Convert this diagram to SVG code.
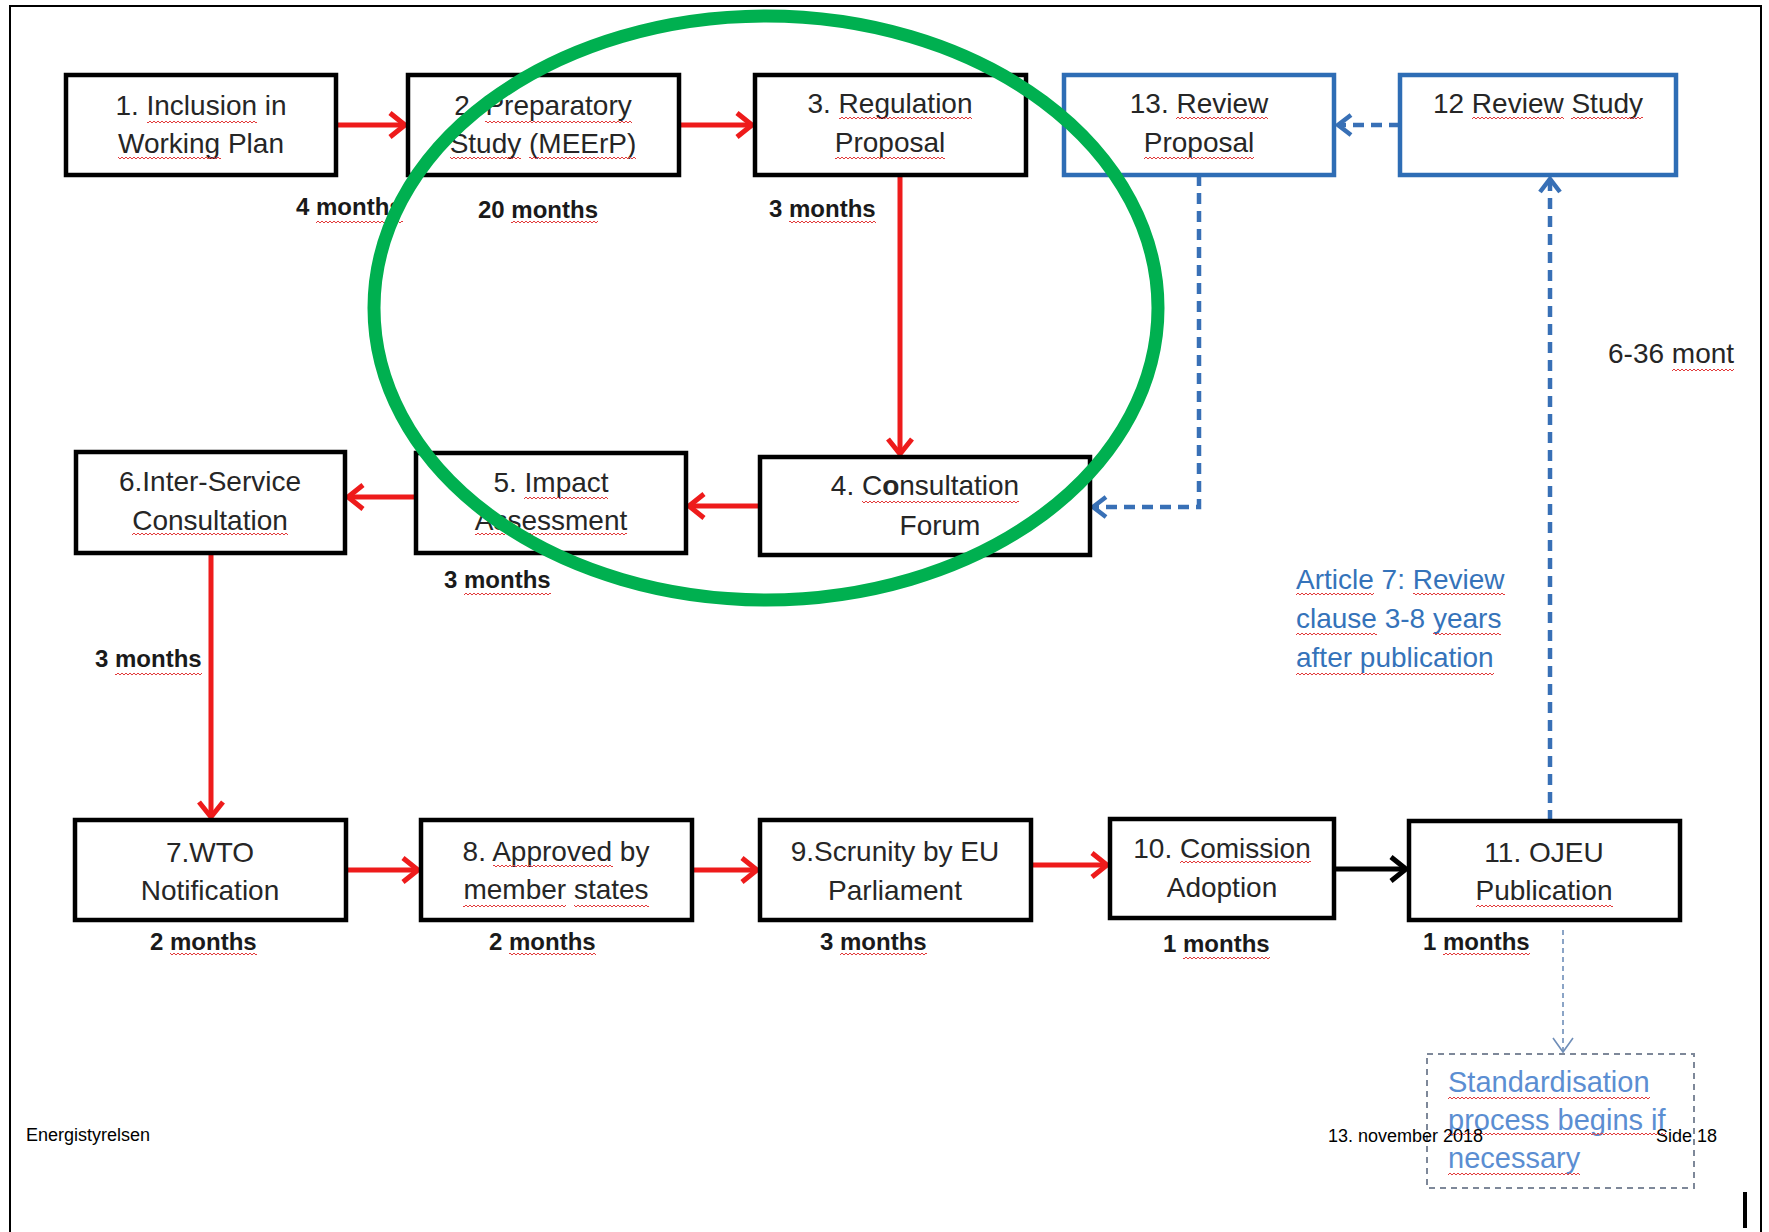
<svg xmlns="http://www.w3.org/2000/svg" width="1769" height="1232" viewBox="0 0 1769 1232">
<defs>
<style>
.box{fill:#fff;stroke:#000;stroke-width:4.5}
.bbox{fill:#fff;stroke:#2E6DB5;stroke-width:4.5}
.t{font-family:"Liberation Sans",Arial,sans-serif;font-size:28px;fill:#262626;text-anchor:middle}
.d{font-family:"Liberation Sans",Arial,sans-serif;font-size:24px;font-weight:bold;fill:#1a1a1a}
.red{fill:none;stroke:#EE1B1B;stroke-width:5}
.blk{fill:none;stroke:#000;stroke-width:5}
.blu{fill:none;stroke:#3870B6;stroke-width:4.5;stroke-dasharray:11 7}
.thin{fill:none;stroke:#6F8EB8;stroke-width:1.6;stroke-dasharray:5 4}
.foot{font-family:"Liberation Sans",Arial,sans-serif;font-size:18px;fill:#000}
.art{font-family:"Liberation Sans",Arial,sans-serif;font-size:28px;fill:#3573BA}
.std{font-family:"Liberation Sans",Arial,sans-serif;font-size:29px;fill:#5B8ED2}
.sq{fill:url(#wv)}
</style>
<pattern id="wv" width="4" height="4" patternUnits="userSpaceOnUse">
<path d="M0,3 L2,1 L4,3" fill="none" stroke="#E23A3A" stroke-width="1"/>
</pattern>
<marker id="mr" markerUnits="userSpaceOnUse" viewBox="-4 -4 26 32" markerWidth="26" markerHeight="32" refX="16" refY="12" orient="auto" overflow="visible">
<path d="M1,0 L16,12 L1,24" fill="none" stroke="#EE1B1B" stroke-width="5"/>
</marker>
<marker id="mk" markerUnits="userSpaceOnUse" viewBox="-4 -4 26 32" markerWidth="26" markerHeight="32" refX="16" refY="12" orient="auto" overflow="visible">
<path d="M1,0 L16,12 L1,24" fill="none" stroke="#000" stroke-width="5"/>
</marker>
<marker id="mb" markerUnits="userSpaceOnUse" viewBox="-4 -4 24 28" markerWidth="24" markerHeight="28" refX="14" refY="10" orient="auto" overflow="visible">
<path d="M1,0 L14,10 L1,20" fill="none" stroke="#3870B6" stroke-width="4.5"/>
</marker>
<marker id="mt" markerUnits="userSpaceOnUse" viewBox="-4 -4 24 28" markerWidth="24" markerHeight="28" refX="14" refY="10" orient="auto" overflow="visible">
<path d="M0,0 L14,10 L0,20" fill="none" stroke="#6F8EB8" stroke-width="1.6"/>
</marker>
</defs>
<rect x="0" y="0" width="1769" height="1232" fill="#fff"/>
<rect x="10" y="6" width="1751" height="1240" fill="none" stroke="#000" stroke-width="2"/>

<g id="connectors">
<path class="red" d="M336,125 H405" marker-end="url(#mr)"/>
<path class="red" d="M679,125 H752" marker-end="url(#mr)"/>
<path class="red" d="M900,175 V454" marker-end="url(#mr)"/>
<path class="red" d="M760,506 H689" marker-end="url(#mr)"/>
<path class="red" d="M416,497 H348" marker-end="url(#mr)"/>
<path class="red" d="M211,553 V817" marker-end="url(#mr)"/>
<path class="red" d="M346,870 H418" marker-end="url(#mr)"/>
<path class="red" d="M692,870 H757" marker-end="url(#mr)"/>
<path class="red" d="M1031,865 H1107" marker-end="url(#mr)"/>
<path class="blk" d="M1334,869 H1406" marker-end="url(#mk)"/>
<path class="blu" d="M1400,125 H1338" marker-end="url(#mb)"/>
<path class="blu" d="M1199,175 V507 H1093" marker-end="url(#mb)"/>
<path class="blu" d="M1550,821 V179" marker-end="url(#mb)"/>
<path class="thin" d="M1563,930 V1052" marker-end="url(#mt)"/>
</g>

<g id="n1"><rect class="box" x="66" y="75" width="270" height="100"/><text class="t" x="201" y="115">1. Inclusion in</text><text class="t" x="201" y="153">Working Plan</text></g>
<g id="n2"><rect class="box" x="408" y="75" width="271" height="100"/><text class="t" x="543" y="115">2. Preparatory</text><text class="t" x="543" y="153">Study (MEErP)</text></g>
<g id="n3"><rect class="box" x="755" y="75" width="271" height="100"/><text class="t" x="890" y="113">3. Regulation</text><text class="t" x="890" y="152">Proposal</text></g>
<g id="n13"><rect class="bbox" x="1064" y="75" width="270" height="100"/><text class="t" x="1199" y="113">13. Review</text><text class="t" x="1199" y="152">Proposal</text></g>
<g id="n12"><rect class="bbox" x="1400" y="75" width="276" height="100"/><text class="t" x="1538" y="113">12 Review Study</text></g>
<g id="n6"><rect class="box" x="76" y="452" width="269" height="101"/><text class="t" x="210" y="491">6.Inter-Service</text><text class="t" x="210" y="530">Consultation</text></g>
<g id="n5"><rect class="box" x="416" y="453" width="270" height="100"/><text class="t" x="551" y="492">5. Impact</text><text class="t" x="551" y="530">Assessment</text></g>
<g id="n4"><rect class="box" x="760" y="457" width="330" height="98"/><text class="t" x="925" y="495">4. C<tspan font-weight="bold">o</tspan>nsultation</text><text class="t" x="940" y="535">Forum</text></g>
<g id="n7"><rect class="box" x="75" y="820" width="271" height="100"/><text class="t" x="210" y="862">7.WTO</text><text class="t" x="210" y="900">Notification</text></g>
<g id="n8"><rect class="box" x="421" y="820" width="271" height="100"/><text class="t" x="556" y="861">8. Approved by</text><text class="t" x="556" y="899">member states</text></g>
<g id="n9"><rect class="box" x="760" y="820" width="271" height="100"/><text class="t" x="895" y="861">9.Scrunity by EU</text><text class="t" x="895" y="900">Parliament</text></g>
<g id="n10"><rect class="box" x="1110" y="819" width="224" height="99"/><text class="t" x="1222" y="858">10. Comission</text><text class="t" x="1222" y="897">Adoption</text></g>
<g id="n11"><rect class="box" x="1409" y="821" width="271" height="99"/><text class="t" x="1544" y="862">11. OJEU</text><text class="t" x="1544" y="900">Publication</text></g>
<g id="nstd"><rect x="1427" y="1054" width="267" height="134" fill="none" stroke="#7E8899" stroke-width="2" stroke-dasharray="6 5"/><text class="std" x="1448" y="1092">Standardisation</text><text class="std" x="1448" y="1130">process begins if</text><text class="std" x="1448" y="1168">necessary</text></g>

<g id="labels">
<text class="d" x="296" y="215">4 months</text>
<text class="d" x="478" y="218">20 months</text>
<text class="d" x="769" y="217">3 months</text>
<text class="d" x="444" y="588">3 months</text>
<text class="d" x="95" y="667">3 months</text>
<text class="d" x="150" y="950">2 months</text>
<text class="d" x="489" y="950">2 months</text>
<text class="d" x="820" y="950">3 months</text>
<text class="d" x="1163" y="952">1 months</text>
<text class="d" x="1423" y="950">1 months</text>
<text class="t" x="1608" y="363" style="text-anchor:start">6-36 mont</text>
<text class="art" x="1296" y="589">Article 7: Review</text>
<text class="art" x="1296" y="628">clause  3-8 years</text>
<text class="art" x="1296" y="667">after publication</text>
</g>

<g id="spelling">
<rect class="sq" x="147" y="120" width="110" height="4"/>
<rect class="sq" x="118" y="156" width="103" height="4"/>
<rect class="sq" x="485" y="120" width="147" height="4"/>
<rect class="sq" x="450" y="156" width="71" height="4"/>
<rect class="sq" x="529" y="156" width="107" height="4"/>
<rect class="sq" x="839" y="116" width="133" height="4"/>
<rect class="sq" x="835" y="156" width="110" height="4"/>
<rect class="sq" x="316" y="220" width="87" height="4"/>
<rect class="sq" x="511" y="220" width="87" height="4"/>
<rect class="sq" x="789" y="220" width="87" height="4"/>
<rect class="sq" x="1176" y="116" width="92" height="4"/>
<rect class="sq" x="1144" y="156" width="110" height="4"/>
<rect class="sq" x="1472" y="116" width="92" height="4"/>
<rect class="sq" x="1571" y="116" width="72" height="4"/>
<rect class="sq" x="1672" y="368" width="62" height="4"/>
<rect class="sq" x="132" y="532" width="156" height="4"/>
<rect class="sq" x="524" y="496" width="84" height="4"/>
<rect class="sq" x="475" y="532" width="152" height="4"/>
<rect class="sq" x="862" y="500" width="157" height="4"/>
<rect class="sq" x="464" y="592" width="87" height="4"/>
<rect class="sq" x="115" y="672" width="87" height="4"/>
<rect class="sq" x="1296" y="592" width="78" height="4"/>
<rect class="sq" x="1413" y="592" width="92" height="4"/>
<rect class="sq" x="1296" y="632" width="81" height="4"/>
<rect class="sq" x="1433" y="632" width="68" height="4"/>
<rect class="sq" x="1296" y="672" width="198" height="4"/>
<rect class="sq" x="170" y="952" width="87" height="4"/>
<rect class="sq" x="509" y="952" width="87" height="4"/>
<rect class="sq" x="493" y="864" width="120" height="4"/>
<rect class="sq" x="463" y="904" width="103" height="4"/>
<rect class="sq" x="574" y="904" width="75" height="4"/>
<rect class="sq" x="840" y="952" width="87" height="4"/>
<rect class="sq" x="1180" y="860" width="131" height="4"/>
<rect class="sq" x="1183" y="956" width="87" height="4"/>
<rect class="sq" x="1443" y="952" width="87" height="4"/>
<rect class="sq" x="1476" y="904" width="137" height="4"/>
<rect class="sq" x="1448" y="1096" width="202" height="4"/>
<rect class="sq" x="1448" y="1132" width="218" height="4"/>
<rect class="sq" x="1448" y="1172" width="132" height="4"/>
</g>

<ellipse cx="766" cy="308" rx="392" ry="292" fill="none" stroke="#00B050" stroke-width="13"/>

<g id="footer">
<text class="foot" x="26" y="1141">Energistyrelsen</text>
<text class="foot" x="1483" y="1142" text-anchor="end">13. november 2018</text>
<text class="foot" x="1656" y="1142">Side 18</text>
<rect x="1743" y="1192" width="4" height="36" fill="#000"/>
</g>
</svg>
